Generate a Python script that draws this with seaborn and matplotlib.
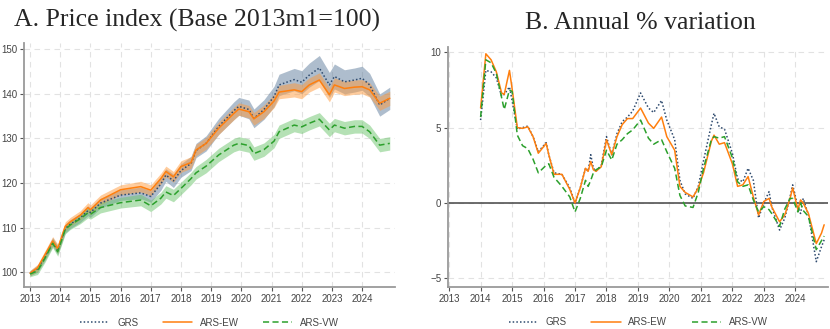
import pandas as pd
import seaborn as sns
import matplotlib.pyplot as plt
from matplotlib.lines import Line2D

# --- Panel A: price index (Base 2013m1=100) ---
idx_dates = ["2013-01", "2013-04", "2013-07", "2013-10", "2013-12", "2014-03", "2014-05",
             "2014-09", "2014-12", "2015-01", "2015-05", "2016-01", "2016-09", "2017-01",
             "2017-05", "2017-07", "2017-10", "2018-01", "2018-05", "2018-07", "2018-11",
             "2019-04", "2019-10", "2019-12", "2020-04", "2020-06", "2020-10", "2021-02",
             "2021-04", "2021-10", "2022-01", "2022-04", "2022-08", "2022-12", "2023-02",
             "2023-06", "2023-10", "2024-01", "2024-04", "2024-08", "2024-12"]
grs_idx = [99.8, 100.8, 103.6, 106.8, 105.0, 109.8, 110.8, 112.2, 113.8, 113.4, 115.5,
           117.3, 117.8, 117.0, 119.8, 121.8, 120.5, 122.8, 124.4, 127.3, 128.9, 132.7,
           136.2, 137.2, 136.5, 134.5, 136.5, 139.4, 142.0, 143.2, 142.6, 144.2, 145.8,
           142.0, 143.9, 142.7, 143.1, 143.5, 142.0, 137.5, 139.0]
ew_idx = [99.8, 101.0, 104.0, 107.0, 105.3, 110.3, 111.3, 112.8, 114.5, 114.0, 116.2,
          118.5, 119.2, 118.4, 121.0, 122.6, 121.4, 123.7, 124.6, 127.4, 128.9, 132.3,
          135.6, 136.6, 136.0, 134.4, 136.0, 138.4, 140.4, 140.9, 140.5, 142.0, 143.1,
          139.8, 142.0, 141.2, 141.5, 141.6, 140.9, 137.9, 139.0]
vw_idx = [99.6, 100.3, 103.2, 106.5, 104.6, 109.6, 110.6, 112.0, 113.3, 113.0, 114.5,
          115.6, 116.2, 114.9, 116.6, 118.0, 117.2, 118.8, 121.0, 122.3, 123.8, 126.3,
          128.5, 128.9, 128.4, 126.6, 127.5, 129.4, 131.5, 133.0, 132.6, 133.4, 134.3,
          131.9, 133.0, 132.3, 132.7, 132.7, 131.5, 128.5, 128.9]
# half-widths of the shaded bands
grs_band = [0.6, 0.8, 0.9, 1.0, 1.0, 1.0, 1.0, 1.0, 1.1, 1.1, 1.1, 1.2, 1.3, 1.3, 1.4,
            1.4, 1.5, 1.5, 1.6, 1.6, 1.7, 1.8, 2.0, 2.0, 2.1, 2.1, 2.2, 2.3, 2.4, 2.5,
            2.6, 2.7, 2.8, 2.8, 2.8, 2.7, 2.7, 2.7, 2.6, 2.5, 2.5]
ew_band = [0.6, 0.8, 0.9, 1.0, 1.0, 1.0, 1.0, 1.0, 1.1, 1.1, 1.1, 1.1, 1.2, 1.2, 1.2,
           1.2, 1.2, 1.3, 1.3, 1.3, 1.3, 1.4, 1.4, 1.4, 1.4, 1.4, 1.5, 1.5, 1.5, 1.6,
           1.6, 1.6, 1.6, 1.6, 1.6, 1.6, 1.6, 1.6, 1.6, 1.6, 1.6]
vw_band = [0.6, 0.8, 0.9, 1.0, 1.0, 1.0, 1.0, 1.1, 1.1, 1.1, 1.2, 1.2, 1.3, 1.3, 1.3,
           1.4, 1.4, 1.4, 1.4, 1.4, 1.5, 1.5, 1.5, 1.5, 1.5, 1.5, 1.5, 1.5, 1.5, 1.5,
           1.5, 1.5, 1.5, 1.5, 1.5, 1.5, 1.5, 1.5, 1.5, 1.5, 1.5]

# --- Panel B: annual % variation ---
var_dates = ["2014-01", "2014-03", "2014-05", "2014-07", "2014-09", "2014-10", "2014-12",
             "2015-01", "2015-03", "2015-05", "2015-07", "2015-09", "2015-11", "2016-02",
             "2016-03", "2016-05", "2016-08", "2016-11", "2017-01", "2017-03", "2017-05",
             "2017-06", "2017-07", "2017-08", "2017-09", "2017-11", "2018-01", "2018-03",
             "2018-05", "2018-07", "2018-09", "2018-11", "2019-02", "2019-05", "2019-07",
             "2019-10", "2019-12", "2020-03", "2020-05", "2020-07", "2020-10", "2020-12",
             "2021-02", "2021-05", "2021-06", "2021-08", "2021-10", "2022-01", "2022-03",
             "2022-05", "2022-07", "2022-09", "2022-11", "2023-01", "2023-03", "2023-04",
             "2023-07", "2023-09", "2023-11", "2023-12", "2024-02", "2024-03", "2024-04",
             "2024-06", "2024-09", "2024-11", "2024-12"]
grs_var = [5.5, 8.8, 8.7, 8.3, 7.1, 7.2, 7.7, 6.8, 4.9, 5.0, 5.1, 4.4, 3.4, 4.0, 3.2,
           2.0, 1.9, 1.0, 0.0, 1.0, 2.3, 2.1, 3.2, 2.3, 2.1, 2.5, 4.4, 3.2, 4.6, 5.4,
           5.7, 6.1, 7.3, 6.3, 6.0, 6.8, 5.5, 4.2, 1.5, 0.6, 0.3, 1.1, 2.8, 5.2, 5.95,
           5.05, 4.9, 3.3, 1.6, 1.4, 2.3, 1.5, -1.0, 0.0, 0.75, -0.25, -1.8, -1.0, 0.4,
           1.2, -0.3, -0.7, 0.3, -0.8, -3.9, -2.9, -2.45]
ew_var = [6.3, 9.9, 9.5, 8.7, 7.3, 7.2, 8.8, 7.6, 5.0, 4.95, 5.05, 4.4, 3.3, 3.95, 3.2,
          1.9, 1.9, 0.9, 0.0, 1.0, 2.3, 2.1, 2.75, 2.2, 2.1, 2.4, 4.2, 3.2, 4.4, 5.2,
          5.6, 5.6, 6.3, 5.3, 4.95, 5.7, 4.4, 3.5, 1.1, 0.7, 0.4, 1.0, 2.0, 4.1, 4.5,
          3.9, 4.0, 2.6, 1.1, 1.2, 1.75, 0.4, -0.8, 0.1, 0.3, -0.25, -1.25, -0.8, 0.3,
          1.0, -0.45, 0.2, 0.0, -0.7, -2.7, -2.0, -1.45]
vw_var = [5.7, 9.5, 9.3, 8.6, 7.0, 6.2, 7.5, 7.4, 4.5, 3.8, 3.6, 2.9, 2.0, 2.5, 2.6,
          1.7, 1.1, 0.4, -0.6, 0.3, 1.5, 1.1, 1.5, 2.0, 2.2, 2.4, 3.5, 2.85, 3.9, 4.2,
          4.6, 4.85, 5.5, 4.3, 3.9, 4.2, 3.4, 2.3, 0.5, -0.2, -0.3, 0.7, 2.3, 4.2, 4.4,
          4.3, 4.4, 3.0, 1.4, 1.1, 1.2, 0.2, -0.6, -0.25, -0.45, -0.7, -1.55, -0.4, 0.3,
          0.3, -0.6, 0.0, -0.5, -0.9, -3.1, -2.5, -2.2]

series = ["GRS", "ARS-EW", "ARS-VW"]
colors = {"GRS": "#2e4a6e", "ARS-EW": "#ff7f0e", "ARS-VW": "#2ca02c"}
band_colors = {"GRS": "#5f7d9c", "ARS-EW": "#ff9b3d", "ARS-VW": "#6cc46c"}
dashes = {"GRS": (1, 1.4), "ARS-EW": "", "ARS-VW": (4, 2.2)}
years = list(range(2013, 2025))


def to_year(dates):
    d = pd.to_datetime(dates)
    return d.year + (d.month - 1) / 12


idx_t = to_year(idx_dates)
var_t = to_year(var_dates)
idx_df = pd.DataFrame({"t": idx_t, "GRS": grs_idx, "ARS-EW": ew_idx, "ARS-VW": vw_idx})
idx_df = idx_df.melt(id_vars="t", var_name="series", value_name="value")
var_df = pd.DataFrame({"t": var_t, "GRS": grs_var, "ARS-EW": ew_var, "ARS-VW": vw_var})
var_df = var_df.melt(id_vars="t", var_name="series", value_name="value")

sns.set_theme(style="white")
plt.rcParams["font.family"] = ["Liberation Sans Narrow", "Liberation Sans", "DejaVu Sans"]

fig = plt.figure(figsize=(8.3, 3.29), dpi=100)
ax1 = fig.add_axes([0.0289, 0.1277, 0.447, 0.7416])
ax2 = fig.add_axes([0.540, 0.1277, 0.458, 0.7303])

# bands for panel A
for name, mid, hw in [("GRS", grs_idx, grs_band), ("ARS-EW", ew_idx, ew_band),
                      ("ARS-VW", vw_idx, vw_band)]:
    lo = [m - h for m, h in zip(mid, hw)]
    hi = [m + h for m, h in zip(mid, hw)]
    ax1.fill_between(idx_t, lo, hi, color=band_colors[name], alpha=0.5, lw=0)

sns.lineplot(data=idx_df, x="t", y="value", hue="series", style="series",
             hue_order=series, style_order=series, palette=colors, dashes=dashes,
             linewidth=1.1, legend=False, ax=ax1)

ax2.axhline(0, color="#444444", lw=1.1, zorder=1)
sns.lineplot(data=var_df, x="t", y="value", hue="series", style="series",
             hue_order=series, style_order=series, palette=colors, dashes=dashes,
             linewidth=1.1, legend=False, ax=ax2)

ax1.set_xlim(2012.80, 2025.09)
ax1.set_ylim(96.7, 151.4)
ax1.set_yticks(range(100, 151, 10))
ax2.set_xlim(2012.97, 2025.05)
ax2.set_ylim(-5.58, 10.37)
ax2.set_yticks([-5, 0, 5, 10])

for ax in (ax1, ax2):
    ax.set_xticks(years)
    ax.set_xticklabels([str(y) for y in years])
    ax.set_xlabel("")
    ax.set_ylabel("")
    ax.grid(True, color="#e2e2e2", lw=0.8, ls=(0, (5, 4)))
    ax.set_axisbelow(True)
    for s in ("top", "right"):
        ax.spines[s].set_visible(False)
    for s in ("left", "bottom"):
        ax.spines[s].set_color("#9a9a9a")
        ax.spines[s].set_linewidth(1.3)
    ax.tick_params(axis="both", direction="out", length=3, width=0.8, color="#555555",
                   labelsize=7, labelcolor="#444444", pad=2, left=True, bottom=True)
    handles = [Line2D([], [], color=colors[n], lw=1.1,
                      ls=(0, dashes[n]) if dashes[n] else "-") for n in series]
    ax.legend(handles, series, loc="upper center", bbox_to_anchor=(0.5, -0.09),
              ncol=3, frameon=False, fontsize=7, labelcolor="#444444",
              handlelength=3, columnspacing=2.5, handletextpad=0.8)

fig.text(0.237, 0.938, "A. Price index (Base 2013m1=100)", ha="center", va="center",
         fontsize=18.5, family=["Liberation Serif", "DejaVu Serif"])
fig.text(0.771, 0.93, "B. Annual % variation", ha="center", va="center",
         fontsize=18.5, family=["Liberation Serif", "DejaVu Serif"])

fig.savefig("out.png", dpi=100)
plt.close(fig)
